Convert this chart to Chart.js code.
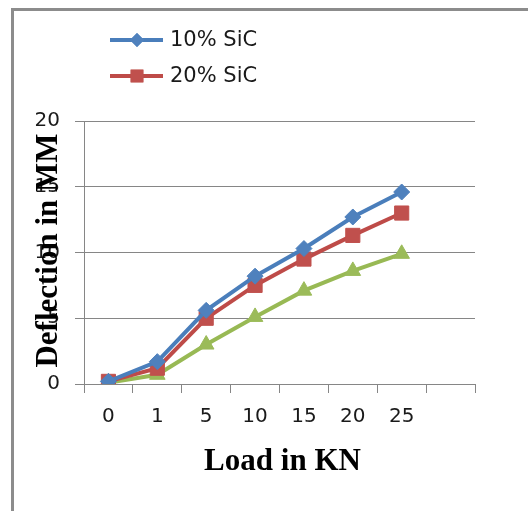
<!DOCTYPE html>
<html>
<head>
<meta charset="utf-8">
<script src="https://cdn.jsdelivr.net/npm/chart.js@4/dist/chart.umd.min.js"></script>
<style>
  html, body { margin: 0; padding: 0; background: #fff; overflow: hidden; }
  canvas { display: block; }
</style>
</head>
<body>
<canvas id="c" width="528" height="511"></canvas>
<script>
const categories = ['0', '1', '5', '10', '15', '20', '25', ''];
const sic10 = [0.2, 1.7, 5.6, 8.2, 10.3, 12.7, 14.6];
const sic20 = [0.2, 1.2, 5.0, 7.5, 9.5, 11.3, 13.0];
const series3 = [0.1, 0.7, 3.0, 5.1, 7.1, 8.6, 9.9];
const seriesLabels = ['10% SiC', '20% SiC', ''];
const yTitle = 'Deflection in MM';
const xTitle = 'Load in KN';

const GRID = '#868686';

const overlay = {
  id: 'overlay',
  beforeDraw(chart) {
    const ctx = chart.ctx;
    ctx.save();
    ctx.fillStyle = '#fff';
    ctx.fillRect(0, 0, chart.width, chart.height);
    ctx.fillStyle = '#8c8c8c';
    ctx.fillRect(11, 8, chart.width - 11, 3);
    ctx.fillRect(11, 8, 3, chart.height - 8);
    ctx.restore();
  },
  afterDraw(chart) {
    const ctx = chart.ctx;
    const ca = chart.chartArea;
    ctx.save();
    ctx.fillStyle = '#000';
    ctx.font = 'bold 31px "Liberation Serif", "Times New Roman", serif';
    ctx.textAlign = 'center';
    ctx.textBaseline = 'alphabetic';
    ctx.fillText(xTitle, (ca.left + ca.right) / 2 + 3, 470);
    ctx.save();
    ctx.translate(57, (ca.top + ca.bottom) / 2 - 2);
    ctx.rotate(-Math.PI / 2);
    ctx.fillText(yTitle, 0, 0);
    ctx.restore();
    const rows = [40, 76];
    const radii = [7, 9];
    for (let i = 0; i < 2; i++) {
      const ds = chart.data.datasets[i];
      const y = rows[i];
      ctx.strokeStyle = ds.borderColor;
      ctx.lineWidth = 4;
      ctx.beginPath();
      ctx.moveTo(110, y);
      ctx.lineTo(163, y);
      ctx.stroke();
      ctx.fillStyle = ds.pointBackgroundColor;
      Chart.helpers.drawPoint(ctx, { pointStyle: ds.pointStyle, radius: radii[i], borderWidth: 0 }, 137, y);
      ctx.fill();
      ctx.fillStyle = '#1a1a1a';
      ctx.font = '21px "DejaVu Sans", sans-serif';
      ctx.textAlign = 'left';
      ctx.textBaseline = 'middle';
      ctx.fillText(ds.label, 170, y + 1);
    }
    ctx.restore();
  }
};

new Chart(document.getElementById('c'), {
  type: 'line',
  data: {
    labels: categories,
    datasets: [
      { label: seriesLabels[0], data: sic10, borderColor: '#4A7EBB', backgroundColor: '#4F81BD',
        pointBackgroundColor: '#4F81BD', pointBorderColor: '#4F81BD', pointStyle: 'rectRot',
        pointRadius: 8, borderWidth: 4, pointBorderWidth: 1, tension: 0 },
      { label: seriesLabels[1], data: sic20, borderColor: '#BE4B48', backgroundColor: '#C0504D',
        pointBackgroundColor: '#C0504D', pointBorderColor: '#C0504D', pointStyle: 'rect',
        pointRadius: 10, borderWidth: 4, pointBorderWidth: 1, tension: 0 },
      { label: seriesLabels[2], data: series3, borderColor: '#98B954', backgroundColor: '#9BBB59',
        pointBackgroundColor: '#9BBB59', pointBorderColor: '#9BBB59', pointStyle: 'triangle',
        pointRadius: 9, borderWidth: 4, pointBorderWidth: 1, tension: 0 }
    ]
  },
  options: {
    responsive: false,
    animation: false,
    devicePixelRatio: 1,
    layout: { padding: { left: 0, right: 53, top: 121, bottom: 0 } },
    plugins: { legend: { display: false }, tooltip: { enabled: false } },
    scales: {
      x: {
        offset: true,
        grid: { offset: true, drawOnChartArea: false, drawTicks: true, tickLength: 9, color: GRID },
        border: { display: true, color: GRID, width: 1 },
        ticks: { color: '#1a1a1a', font: { family: 'DejaVu Sans', size: 20 }, padding: 12, maxRotation: 0, autoSkip: false },
        afterFit(s) { s.height = 127; }
      },
      y: {
        min: 0, max: 20,
        grid: { color: GRID, tickLength: 9, drawTicks: true },
        border: { display: true, color: GRID, width: 1 },
        ticks: { stepSize: 5, color: '#1a1a1a', font: { family: 'DejaVu Sans', size: 20 }, padding: 15 },
        afterFit(s) { s.width = 84; }
      }
    }
  },
  plugins: [overlay]
});
</script>
</body>
</html>
